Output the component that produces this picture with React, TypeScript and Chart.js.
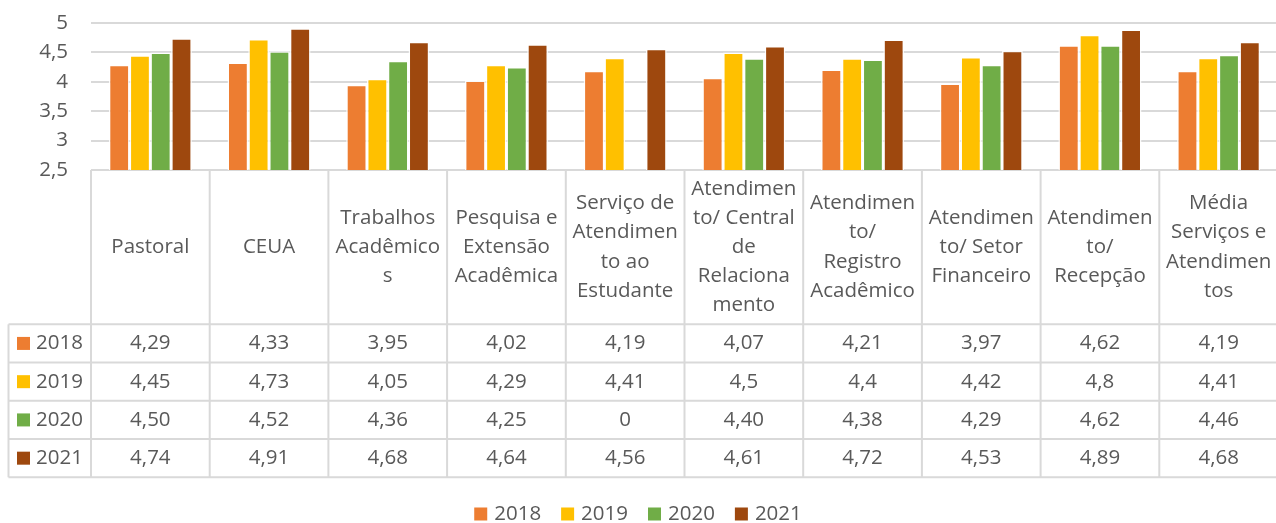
import React, { useEffect, useRef } from "react";
import { Chart, registerables } from "chart.js";

Chart.register(...registerables);

const CATEGORIES: string[][] = [
  ["Pastoral"],
  ["CEUA"],
  ["Trabalhos", "Acadêmico", "s"],
  ["Pesquisa e", "Extensão", "Acadêmica"],
  ["Serviço de", "Atendimen", "to ao", "Estudante"],
  ["Atendimen", "to/ Central", "de", "Relaciona", "mento"],
  ["Atendimen", "to/", "Registro", "Acadêmico"],
  ["Atendimen", "to/ Setor", "Financeiro"],
  ["Atendimen", "to/", "Recepção"],
  ["Média", "Serviços e", "Atendimen", "tos"],
];

const SERIES_LABELS = ["2018", "2019", "2020", "2021"];
const VALUES_2018 = ["4,29", "4,33", "3,95", "4,02", "4,19", "4,07", "4,21", "3,97", "4,62", "4,19"];
const VALUES_2019 = ["4,45", "4,73", "4,05", "4,29", "4,41", "4,5", "4,4", "4,42", "4,8", "4,41"];
const VALUES_2020 = ["4,50", "4,52", "4,36", "4,25", "0", "4,40", "4,38", "4,29", "4,62", "4,46"];
const VALUES_2021 = ["4,74", "4,91", "4,68", "4,64", "4,56", "4,61", "4,72", "4,53", "4,89", "4,68"];
const SERIES_VALUES = [VALUES_2018, VALUES_2019, VALUES_2020, VALUES_2021];
const SERIES_COLORS = ["#ED7D31", "#FFC000", "#70AD47", "#9E480E"];

const Y_MIN = 2.5;
const Y_MAX = 5;
const Y_STEP = 0.5;

const TEXT_COLOR = "#595959";
const LINE_COLOR = "#D9D9D9";
const FONT_FAMILY = "'Open Sans', sans-serif";
const FONT_SIZE = 20.5;

const W = 1276;
const H = 523;

const parseNum = (s: string) => parseFloat(s.replace(",", "."));

const tablePlugin = {
  id: "dataTable",
  afterDraw(chart: any) {
    const ctx: CanvasRenderingContext2D = chart.ctx;
    const xs = chart.scales.x;
    const area = chart.chartArea;
    const n = chart.data.labels.length;
    const step = xs.getPixelForValue(1) - xs.getPixelForValue(0);
    const headerTop = area.bottom;
    const headerBottom = 324.3;
    const rowH = 38.25;
    const nRows = chart.data.datasets.length;
    const tableBottom = headerBottom + nRows * rowH;
    const legendLeft = 8.5;

    ctx.save();
    ctx.strokeStyle = LINE_COLOR;
    ctx.lineWidth = 2;
    for (let i = 0; i <= n; i++) {
      const x = xs.getPixelForValue(0) - step / 2 + i * step;
      ctx.beginPath();
      ctx.moveTo(x, headerTop);
      ctx.lineTo(x, tableBottom);
      ctx.stroke();
    }
    ctx.beginPath();
    ctx.moveTo(legendLeft, headerBottom);
    ctx.lineTo(legendLeft, tableBottom);
    ctx.stroke();
    for (let r = 0; r <= nRows; r++) {
      const y = headerBottom + r * rowH;
      ctx.beginPath();
      ctx.moveTo(legendLeft, y);
      ctx.lineTo(area.right, y);
      ctx.stroke();
    }

    ctx.fillStyle = TEXT_COLOR;
    ctx.font = `${FONT_SIZE}px ${FONT_FAMILY}`;
    ctx.textAlign = "center";
    ctx.textBaseline = "middle";
    const lineH = 29.2;
    const headerMid = (headerTop + headerBottom) / 2;
    chart.data.labels.forEach((lab: string[], i: number) => {
      const cx = xs.getPixelForValue(i);
      const lines = Array.isArray(lab) ? lab : [lab];
      lines.forEach((ln, k) => {
        const y = headerMid + (k - (lines.length - 1) / 2) * lineH;
        ctx.fillText(ln, cx, y);
      });
    });
    chart.data.datasets.forEach((ds: any, r: number) => {
      const cy = headerBottom + r * rowH + rowH / 2;
      const texts: string[] = ds.tableText;
      texts.forEach((t, i) => {
        ctx.fillText(t, xs.getPixelForValue(i), cy);
      });
      ctx.fillStyle = ds.backgroundColor;
      ctx.fillRect(17, cy - 6.5, 13, 13);
      ctx.fillStyle = TEXT_COLOR;
      ctx.textAlign = "left";
      ctx.fillText(ds.label, 36, cy);
      ctx.textAlign = "center";
    });

    const box = 13;
    const gapBox = 7;
    const gapItem = 20;
    const widths = chart.data.datasets.map((ds: any) => box + gapBox + ctx.measureText(ds.label).width);
    const total = widths.reduce((a: number, b: number) => a + b, 0) + gapItem * (widths.length - 1);
    let lx = W / 2 - total / 2;
    const ly = 514;
    ctx.textAlign = "left";
    chart.data.datasets.forEach((ds: any, i: number) => {
      ctx.fillStyle = ds.backgroundColor;
      ctx.fillRect(lx, ly - 6.5, box, box);
      ctx.fillStyle = TEXT_COLOR;
      ctx.fillText(ds.label, lx + box + gapBox, ly);
      lx += widths[i] + gapItem;
    });
    ctx.restore();
  },
};

export default function App() {
  const ref = useRef<HTMLCanvasElement>(null);
  useEffect(() => {
    if (!ref.current) return;
    const chart = new Chart(ref.current, {
      type: "bar",
      data: {
        labels: CATEGORIES as any,
        datasets: SERIES_LABELS.map((label, i) => ({
          label,
          data: SERIES_VALUES[i].map(parseNum),
          tableText: SERIES_VALUES[i],
          backgroundColor: SERIES_COLORS[i],
          borderColor: "rgba(255,255,255,0.85)",
          borderWidth: 1.5,
          categoryPercentage: 0.7,
          barPercentage: 1,
        })) as any,
      },
      options: {
        responsive: false,
        animation: false,
        devicePixelRatio: 1,
        layout: { padding: { top: 23, bottom: H - 170, left: 0, right: 0 } },
        plugins: { legend: { display: false }, tooltip: { enabled: false } },
        scales: {
          x: { display: false },
          y: {
            min: Y_MIN,
            max: Y_MAX,
            ticks: {
              stepSize: Y_STEP,
              color: TEXT_COLOR,
              font: { family: FONT_FAMILY, size: FONT_SIZE },
              padding: 23,
              callback: (v: any) => String(v).replace(".", ","),
            },
            grid: { color: LINE_COLOR, lineWidth: 2, drawTicks: false },
            border: { display: false },
            afterFit: (s: any) => {
              s.width = 91;
              s.paddingTop = 0;
              s.paddingBottom = 0;
            },
          },
        },
      },
      plugins: [tablePlugin],
    });
    return () => chart.destroy();
  }, []);
  return (
    <div style={{ position: "fixed", left: 0, top: 0, width: W, height: H, overflow: "hidden", background: "#fff" }}>
      <canvas ref={ref} width={W + 2} height={H} style={{ display: "block" }} />
    </div>
  );
}
